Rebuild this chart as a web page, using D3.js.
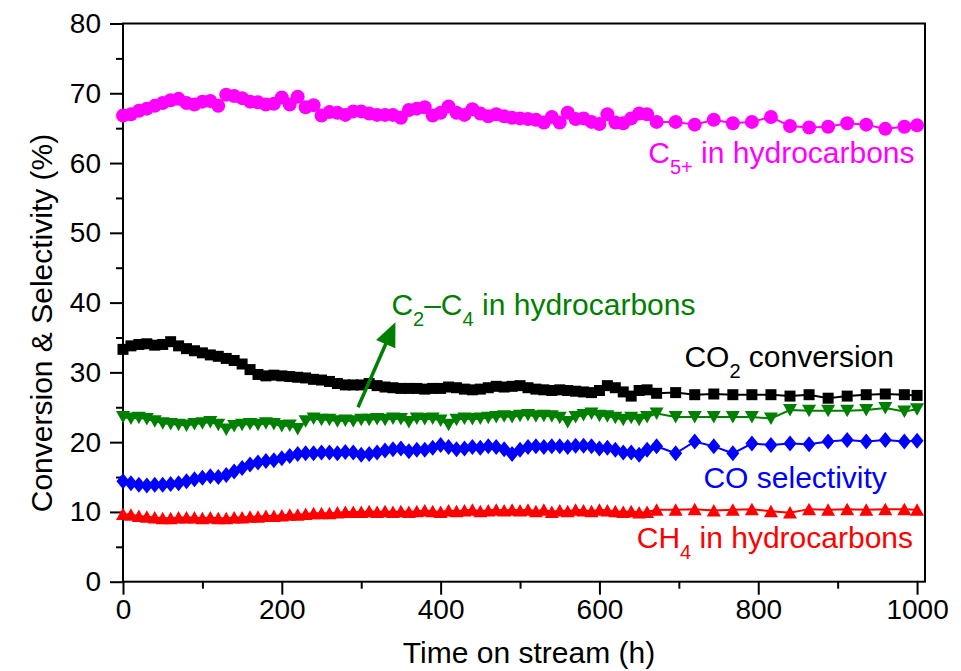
<!DOCTYPE html>
<html>
<head>
<meta charset="utf-8">
<script src="https://cdn.jsdelivr.net/npm/d3@7"></script>
<style>
  html, body { margin: 0; padding: 0; background: #fff; }
  svg { display: block; font-family: "Liberation Sans", Arial, Helvetica, sans-serif; }
  text { white-space: pre; }
</style>
</head>
<body>
<svg id="chart" width="961" height="671"></svg>
<script>
// Time on stream (h) shared by every series
const hours = [
  0, 10, 20, 30, 40, 50, 60, 70, 80, 90,
  100, 110, 120, 130, 140, 150, 160, 170, 180, 190,
  200, 210, 220, 230, 240, 250, 260, 270, 280, 290,
  300, 310, 320, 330, 340, 350, 360, 370, 380, 390,
  400, 410, 420, 430, 440, 450, 460, 470, 480, 490,
  500, 510, 520, 530, 540, 550, 560, 570, 580, 590,
  600, 610, 620, 630, 640, 650, 660,
  672, 696, 720, 744, 768, 792, 816, 840, 864, 888, 912, 936, 960, 984, 1000
];

// C5+ in hydrocarbons (%)
const c5Plus = [
  66.8, 67.0, 67.5, 67.8, 68.2, 68.6, 69.0, 69.2, 68.6, 68.4,
  68.8, 68.9, 68.2, 69.8, 69.6, 69.3, 68.8, 68.7, 68.4, 68.5,
  69.4, 68.4, 69.5, 68.0, 68.3, 66.8, 67.3, 67.2, 66.9, 67.4,
  67.4, 67.1, 66.9, 66.9, 66.9, 66.5, 67.6, 67.8, 68.0, 66.8,
  67.2, 68.1, 67.2, 66.9, 67.7, 67.1, 66.7, 67.0, 66.7, 66.5,
  66.4, 66.3, 66.2, 65.8, 66.6, 65.8, 67.2, 66.3, 66.4, 65.9,
  65.6, 67.0, 65.8, 65.7, 66.4, 67.1, 67.0,
  65.9, 65.9, 65.5, 66.2, 65.7, 65.9, 66.6, 65.3, 65.1, 65.2, 65.7, 65.5, 64.9, 65.2, 65.4
];

// CO2 conversion (%)
const co2Conversion = [
  33.3, 33.8, 34.0, 34.1, 33.9, 34.0, 34.4, 33.8, 33.4, 33.1,
  32.8, 32.5, 32.3, 32.0, 31.7, 31.2, 30.4, 29.7, 29.5, 29.6,
  29.5, 29.4, 29.3, 29.2, 29.0, 28.9, 28.7, 28.4, 28.2, 28.2,
  28.2, 28.4, 28.1, 27.9, 27.8, 27.7, 27.7, 27.7, 27.6, 27.7,
  27.7, 27.9, 27.8, 27.6, 27.5, 27.6, 27.8, 28.0, 27.9, 28.0,
  28.1, 27.8, 27.6, 27.5, 27.4, 27.5, 27.4, 27.3, 27.2, 27.1,
  27.4, 28.1, 27.8, 27.2, 26.6, 27.4, 27.5,
  27.0, 27.1, 26.8, 26.9, 26.8, 26.8, 26.8, 26.6, 26.8, 26.3, 26.6, 26.8, 26.9, 26.8, 26.7
];

// C2–C4 in hydrocarbons (%)
const c2c4 = [
  23.6, 23.4, 23.5, 23.3, 23.0, 22.7, 22.6, 22.5, 22.4, 22.6,
  22.7, 22.9, 22.5, 21.8, 22.3, 22.5, 22.6, 22.5, 22.7, 22.6,
  22.3, 22.4, 21.9, 23.0, 23.4, 23.2, 23.2, 23.0, 23.1, 23.0,
  23.2, 23.2, 23.3, 23.2, 23.4, 23.3, 22.9, 23.4, 23.3, 23.4,
  23.1, 22.5, 23.2, 23.4, 23.3, 23.4, 23.5, 23.6, 23.7, 23.6,
  23.8, 23.9, 23.7, 23.8, 23.7, 23.5, 22.9, 23.6, 23.9, 24.1,
  23.8, 23.7, 23.5, 23.2, 23.5, 23.2, 23.6,
  24.1, 23.6, 23.6, 23.6, 23.6, 23.6, 23.4, 24.6, 24.5, 24.5, 24.5, 24.6, 24.9, 24.4, 24.7
];

// CO selectivity (%)
const coSelectivity = [
  14.4, 14.1, 13.9, 13.8, 13.9, 13.9, 14.0, 14.1, 14.4, 14.7,
  14.9, 15.1, 15.0, 15.3, 15.8, 16.3, 16.8, 17.1, 17.3, 17.4,
  17.7, 18.0, 18.3, 18.4, 18.4, 18.5, 18.5, 18.4, 18.6, 18.5,
  18.2, 18.3, 18.5, 18.8, 19.0, 19.1, 18.7, 18.9, 18.9, 19.2,
  19.6, 19.3, 19.0, 19.1, 19.3, 19.2, 19.4, 19.3, 19.0, 18.3,
  18.9, 19.3, 19.4, 19.3, 19.4, 19.4, 19.3, 19.5, 19.5, 19.4,
  19.1, 19.2, 18.9, 18.5, 18.5, 18.2, 18.9,
  19.4, 18.4, 20.1, 19.4, 18.4, 19.8, 19.6, 19.8, 19.7, 20.1, 20.3, 20.1, 20.3, 20.1, 20.2
];

// CH4 in hydrocarbons (%)
const ch4 = [
  9.7, 9.6, 9.4, 9.3, 9.2, 9.1, 9.1, 9.2, 9.2, 9.2,
  9.1, 9.2, 9.1, 9.1, 9.2, 9.2, 9.3, 9.3, 9.4, 9.4,
  9.5, 9.6, 9.6, 9.7, 9.8, 9.8, 9.8, 9.9, 10.0, 10.0,
  10.0, 10.1, 10.0, 10.1, 10.0, 10.1, 10.0, 10.1, 10.2, 10.1,
  10.0, 10.2, 10.1, 10.2, 10.3, 10.1, 10.2, 10.3, 10.2, 10.3,
  10.2, 10.3, 10.1, 10.3, 10.0, 10.2, 10.1, 10.3, 10.2, 10.1,
  10.3, 10.2, 10.1, 10.0, 10.1, 9.9, 10.0,
  10.3, 10.3, 10.4, 10.2, 10.3, 10.4, 10.1, 9.9, 10.4, 10.3, 10.4, 10.3, 10.4, 10.4, 10.3
];

// Axis ticks
const xTicks = [0, 200, 400, 600, 800, 1000];
const xMinorTicks = [100, 300, 500, 700, 900];
const yTicks = [0, 10, 20, 30, 40, 50, 60, 70, 80];
const yMinorTicks = [5, 15, 25, 35, 45, 55, 65, 75];

const svg = d3.select("#chart");
const plotLeft = 123, plotRight = 925, plotTop = 23.5, plotBottom = 581.7;

const x = d3.scaleLinear().domain([0, 1010]).range([plotLeft, plotRight]);
const y = d3.scaleLinear().domain([0, 80]).range([plotBottom, plotTop]);

// Marker shapes (path strings centred on the data point)
const markers = {
  circle: () => d3.symbol(d3.symbolCircle, Math.PI * 7 * 7)(),
  square: () => "M-5.5,-5.5H5.5V5.5H-5.5Z",
  triangleDown: () => "M-7,-6L7,-6L0,6.5Z",
  triangleUp: () => "M-7,6L7,6L0,-6.5Z",
  diamond: () => "M0,-8L6.5,0L0,8L-6.5,0Z"
};

const series = [
  { name: "C5+", values: c5Plus, color: "#ff00ff", shape: "circle" },
  { name: "CO2", values: co2Conversion, color: "#000000", shape: "square" },
  { name: "C2-C4", values: c2c4, color: "#008000", shape: "triangleDown" },
  { name: "CO", values: coSelectivity, color: "#0000ff", shape: "diamond" },
  { name: "CH4", values: ch4, color: "#ff0000", shape: "triangleUp" }
];

// Axes
const axisStyle = g => {
  g.selectAll(".domain").remove();
  g.selectAll(".tick line").attr("stroke", "#000").attr("stroke-width", 2);
  g.selectAll(".tick text").attr("fill", "#000").style("font-size", "28px")
    .style("font-family", '"Liberation Sans", Arial, sans-serif');
};

svg.append("g").attr("transform", `translate(0,${plotBottom})`)
  .call(d3.axisBottom(x).tickValues(xTicks).tickSize(13).tickPadding(4).tickFormat(d3.format("d")))
  .call(axisStyle);
svg.append("g").attr("transform", `translate(0,${plotBottom})`)
  .call(d3.axisBottom(x).tickValues(xMinorTicks).tickSize(7).tickFormat(""))
  .call(axisStyle);
svg.append("g").attr("transform", `translate(${plotLeft},0)`)
  .call(d3.axisLeft(y).tickValues(yTicks).tickSize(13).tickPadding(9).tickFormat(d3.format("d")))
  .call(axisStyle);
svg.append("g").attr("transform", `translate(${plotLeft},0)`)
  .call(d3.axisLeft(y).tickValues(yMinorTicks).tickSize(7).tickFormat(""))
  .call(axisStyle);

// Frame
svg.append("rect")
  .attr("x", plotLeft).attr("y", plotTop)
  .attr("width", plotRight - plotLeft).attr("height", plotBottom - plotTop)
  .attr("fill", "none").attr("stroke", "#000").attr("stroke-width", 2);

// Series: connecting line plus markers
const line = d3.line().x((d, i) => x(hours[i])).y(d => y(d));
series.forEach(s => {
  const g = svg.append("g").attr("class", "series");
  g.append("path").datum(s.values)
    .attr("d", line)
    .attr("fill", "none").attr("stroke", s.color).attr("stroke-width", 2);
  g.selectAll("path.marker").data(s.values).join("path")
    .attr("class", "marker")
    .attr("d", markers[s.shape]())
    .attr("transform", (d, i) => `translate(${x(hours[i])},${y(d)})`)
    .attr("fill", s.color);
});

// Arrow pointing to the C2–C4 label
const arrowFrom = [296, 25.0], arrowTo = [343, 37.2];
const ax0 = x(arrowFrom[0]), ay0 = y(arrowFrom[1]), ax1 = x(arrowTo[0]), ay1 = y(arrowTo[1]);
const arrowLen = Math.hypot(ax1 - ax0, ay1 - ay0);
const ux = (ax1 - ax0) / arrowLen, uy = (ay1 - ay0) / arrowLen;
const headLen = 24, headHalf = 10.5;
const bx = ax1 - ux * headLen, by = ay1 - uy * headLen;
svg.append("line")
  .attr("x1", ax0).attr("y1", ay0).attr("x2", bx + ux * 2).attr("y2", by + uy * 2)
  .attr("stroke", "#008000").attr("stroke-width", 3.5);
svg.append("path")
  .attr("d", `M${ax1},${ay1}L${bx - uy * headHalf},${by + ux * headHalf}L${bx + uy * headHalf},${by - ux * headHalf}Z`)
  .attr("fill", "#008000");

// Series labels with subscripts
function label(pos, color, parts) {
  const t = svg.append("text")
    .attr("x", x(pos[0])).attr("y", y(pos[1]))
    .attr("fill", color).style("font-size", "30px");
  let shifted = 0;
  parts.forEach(p => {
    const sub = p[1] === "sub";
    const dy = sub ? 11 - shifted : -shifted;
    shifted = sub ? 11 : 0;
    t.append("tspan").attr("dy", dy).style("font-size", sub ? "20px" : "30px").text(p[0]);
  });
}
label([661.5, 60.0], "#ff00ff", [["C"], ["5+", "sub"], [" in hydrocarbons"]]);
label([338, 38.2], "#008000", [["C"], ["2", "sub"], ["–C"], ["4", "sub"], [" in hydrocarbons"]]);
label([707, 30.8], "#000000", [["CO"], ["2", "sub"], [" conversion"]]);
label([731, 13.5], "#0000ff", [["CO selectivity"]]);
label([647, 4.8], "#ff0000", [["CH"], ["4", "sub"], [" in hydrocarbons"]]);

// Axis titles
svg.append("text")
  .attr("x", 529).attr("y", 663)
  .attr("text-anchor", "middle").attr("fill", "#000").style("font-size", "30px")
  .text("Time on stream (h)");
svg.append("text")
  .attr("transform", "translate(52,323) rotate(-90)")
  .attr("text-anchor", "middle").attr("fill", "#000").style("font-size", "30px")
  .text("Conversion & Selectivity (%)");
</script>
</body>
</html>
